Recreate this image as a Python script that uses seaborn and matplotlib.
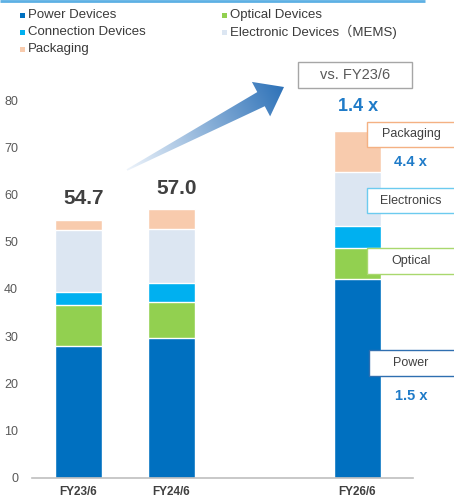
import numpy as np
import pandas as pd
import matplotlib
matplotlib.use("Agg")
import matplotlib.pyplot as plt
from matplotlib.patches import Polygon, Rectangle
from matplotlib.colors import to_rgb
import seaborn as sns

# ---- data (billions of yen, by fiscal year) ----
years = ["FY23/6", "FY24/6", "FY26/6"]
year_pos = [0, 1, 3]
segments = ["Power Devices", "Optical Devices", "Connection Devices",
            "Electronic Devices（MEMS)", "Packaging"]
power = [27.8, 29.6, 42.1]
optical = [8.8, 7.7, 6.6]
connection = [2.8, 3.9, 4.6]
electronics = [13.2, 11.6, 11.5]
packaging = [2.1, 4.2, 8.8]
seg_colors = ["#0070C0", "#92D050", "#00B0F0", "#DCE6F2", "#F8CBAD"]

growth_total = "1.4 x"
growth_packaging = "4.4 x"
growth_power = "1.5 x"

rows = []
for i, y in enumerate(years):
    for s, vals in zip(segments, [power, optical, connection, electronics, packaging]):
        rows.append({"year": y, "pos": year_pos[i], "segment": s, "value": vals[i]})
df = pd.DataFrame(rows)
df["cum"] = df.groupby("year")["value"].cumsum()
totals = df.groupby("pos")["value"].sum()

sns.set_style("white")
plt.rcParams["font.family"] = ["Liberation Sans", "Noto Sans CJK JP", "DejaVu Sans"]

W, H = 454, 503
fig = plt.figure(figsize=(W / 100, H / 100), dpi=100)
ax = fig.add_axes([32 / W, (H - 477.5) / H, 381 / W, 377 / H])

# stacked bars: draw cumulative heights from the top segment down
for seg, col in reversed(list(zip(segments, seg_colors))):
    sub = df[df["segment"] == seg]
    sns.barplot(data=sub, x="pos", y="cum", native_scale=True, width=0.5,
                color=col, saturation=1, edgecolor="white", linewidth=1,
                errorbar=None, ax=ax)

ax.set_xlim(-0.5, 3.597)
ax.set_ylim(0, 80)
ax.set_yticks(range(0, 81, 10))
ax.set_xticks(year_pos)
ax.set_xticklabels(years, fontsize=8.5, fontweight="bold", color="#404040")
ax.set_xlabel("")
ax.set_ylabel("")
ax.tick_params(axis="y", labelsize=9, colors="#595959", length=0, pad=10)
ax.tick_params(axis="x", length=0, pad=6)
for side in ["left", "right", "top"]:
    ax.spines[side].set_visible(False)
ax.spines["bottom"].set_color("#BFBFBF")
ax.spines["bottom"].set_linewidth(1.2)
ax.grid(False)

# totals above the first two bars
for p in year_pos[:2]:
    ax.text(p + 0.06, totals[p] + 4.4, f"{totals[p]:.1f}", ha="center", va="center",
            fontsize=15, fontweight="bold", color="#404040")

# overlay in pixel coordinates for legend, arrow and callouts
ov = fig.add_axes([0, 0, 1, 1], zorder=5)
ov.set_xlim(0, W)
ov.set_ylim(H, 0)
ov.axis("off")
ov.patch.set_alpha(0)

ov.plot([0, 425], [1.2, 1.2], color="#5DB0E4", lw=2, solid_capstyle="butt")

legend_items = [(20, 15, 0), (222, 15, 1), (20, 32, 2), (222, 32, 3), (20, 49, 4)]
for x, y, k in legend_items:
    ov.add_patch(Rectangle((x, y - 2.5), 5, 5, color=seg_colors[k], lw=0))
    ov.text(x + 8, y, segments[k], fontsize=9.5, color="#3A3A3A", va="center", ha="left",
            family=["Liberation Sans", "Noto Sans CJK JP", "DejaVu Sans"])

# gradient arrow
T = np.array([127.0, 170.0])
P = np.array([284.0, 87.0])
d = P - T
L = np.hypot(*d)
u = d / L
n = np.array([-u[1], u[0]])
B = P - u * 26
pts = [T + n * 0.8, B + n * 8, B + n * 19.5, P, B - n * 19.5, B - n * 8, T - n * 0.8]
poly = Polygon(pts, closed=True, facecolor="none", edgecolor="none")
ov.add_patch(poly)
x0, x1, y0, y1 = 115, 300, 70, 180
XX, YY = np.meshgrid(np.linspace(x0, x1, 300), np.linspace(y0, y1, 200))
t = np.clip(((XX - T[0]) * u[0] + (YY - T[1]) * u[1]) / L, 0, 1)
c0 = np.array(to_rgb("#EEF4FB"))
c1 = np.array(to_rgb("#2E72B8"))
img = c0[None, None, :] * (1 - t[..., None]) + c1[None, None, :] * t[..., None]
im = ov.imshow(img, extent=[x0, x1, y1, y0], origin="upper", aspect="auto", zorder=2)
im.set_clip_path(poly)
ov.set_xlim(0, W)
ov.set_ylim(H, 0)

# comparison header
ov.add_patch(Rectangle((298, 62), 114, 26, facecolor="white", edgecolor="#A6A6A6", lw=1))
ov.text(355, 75, "vs. FY23/6", fontsize=10.5, color="#595959", ha="center", va="center")
ov.text(358, 106, growth_total, fontsize=13, fontweight="bold", color="#1F7BC8",
        ha="center", va="center")

# segment callouts beside the FY26/6 bar
callouts = [(367, 122, 25, "Packaging", "#F4B183"),
            (367, 188, 25, "Electronics", "#6CCBEF"),
            (367, 248, 26, "Optical", "#A9D86E"),
            (369, 350, 26, "Power", "#2F6FB0")]
for x, y, h, label, ec in callouts:
    ov.add_patch(Rectangle((x, y), 100, h, facecolor="white", edgecolor=ec, lw=1))
    ov.text(411, y + h / 2, label, fontsize=9, color="#404040", ha="center", va="center")
ov.text(410, 162, growth_packaging, fontsize=10.5, fontweight="bold", color="#1F7BC8",
        ha="center", va="center")
ov.text(411, 396, growth_power, fontsize=10.5, fontweight="bold", color="#1F7BC8",
        ha="center", va="center")

fig.savefig("out.png", dpi=100)
